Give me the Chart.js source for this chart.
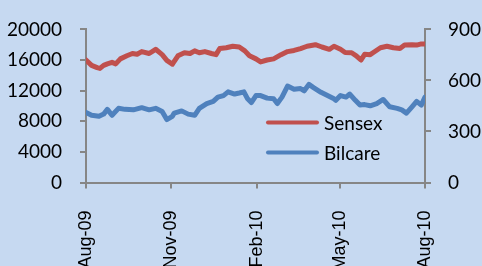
<!DOCTYPE html>
<html><head><meta charset="utf-8">
<script src="https://cdn.jsdelivr.net/npm/chart.js@4.4.1/dist/chart.umd.min.js"></script>
<style>
html,body{margin:0;padding:0;background:#C6D9F1;}
#wrap{width:482px;height:266px;position:relative;}
</style>
</head><body>
<div id="wrap"><canvas id="c"></canvas></div>
<script>
// Days since 1 Aug 2009
const sensexDays = [0,6,12,15,19,23,28,32,37,44,50,55,60,68,75,82,87,93,99,106,112,117,122,128,135,140,144,151,158,165,171,176,183,188,195,202,210,217,224,231,238,247,254,262,267,274,279,286,291,296,300,306,309,317,324,331,338,343,351,356,361,365];
const sensexValues = [16000,15300,15000,14900,15300,15500,15700,15500,16150,16550,16850,16750,17100,16850,17400,16700,15950,15450,16550,16950,16850,17200,16950,17100,16850,16700,17500,17600,17800,17700,17200,16550,16150,15750,16000,16150,16700,17100,17250,17500,17800,18000,17700,17400,17800,17400,16980,16950,16550,16000,16750,16700,16950,17600,17800,17600,17500,17950,18000,17950,18100,18100];
const bilcareDays = [0,6,14,19,23,28,35,42,51,60,68,75,82,87,93,95,103,110,117,122,130,137,142,148,153,160,165,170,174,178,183,188,195,202,206,211,217,224,231,235,240,245,253,260,267,269,274,280,284,290,295,300,306,313,320,327,335,340,345,351,356,361,365];
const bilcareValues = [412,395,389,402,430,395,436,430,427,440,427,436,417,370,389,408,421,402,395,436,464,477,502,511,533,520,526,533,492,470,511,511,496,492,464,502,567,548,552,539,577,558,530,511,492,483,511,502,520,483,455,458,451,464,488,445,436,427,408,445,477,455,502];
const seriesNames = ['Sensex','Bilcare'];
const tickDays = [0,92,184,273,365];
const tickLabels = ['Aug-09','Nov-09','Feb-10','May-10','Aug-10'];

const RED = '#C0504D', BLUE = '#4F81BD', AXIS = '#868686';

const legendPlugin = {
  id: 'inlegend',
  afterDraw(chart){
    const ctx = chart.ctx;
    const rows = [122.5, 152.5];
    ctx.save();
    chart.data.datasets.forEach((ds, i) => {
      const y = rows[i];
      ctx.strokeStyle = ds.borderColor;
      ctx.lineWidth = 4;
      ctx.lineCap = 'round';
      ctx.beginPath(); ctx.moveTo(268, y); ctx.lineTo(317, y); ctx.stroke();
      ctx.fillStyle = '#000';
      ctx.font = '19px Lato';
      ctx.textBaseline = 'middle';
      ctx.textAlign = 'left';
      ctx.fillText(ds.label, 324, y + 1);
    });
    ctx.restore();
  }
};

function build(){
  const yFont = {family: 'Lato', size: 19};
  new Chart(document.getElementById('c'), {
    type: 'line',
    data: {
      datasets: [
        {label: seriesNames[0], data: sensexDays.map((d,i)=>({x:d, y:sensexValues[i]})), borderColor: RED, backgroundColor: RED, borderWidth: 5, pointRadius: 0, tension: 0, yAxisID: 'y', borderJoinStyle: 'round', borderCapStyle:'round'},
        {label: seriesNames[1], data: bilcareDays.map((d,i)=>({x:d, y:bilcareValues[i]})), borderColor: BLUE, backgroundColor: BLUE, borderWidth: 5, pointRadius: 0, tension: 0, yAxisID: 'y1', borderJoinStyle: 'round', borderCapStyle:'round'}
      ]
    },
    options: {
      responsive: true, maintainAspectRatio: false, animation: false,
      layout: {padding: {top: 22, left: 0, right: 0, bottom: 0}},
      plugins: {legend: {display: false}, tooltip: {enabled: false}},
      scales: {
        x: {
          type: 'linear', min: 0, max: 365,
          afterBuildTicks: s => { s.ticks = tickDays.map(v => ({value: v})); },
          afterFit: s => { s.height = 83.5; },
          ticks: {autoSkip: false, minRotation: 90, maxRotation: 90, color: '#000', padding: 22,
                  font: {family: 'Liberation Sans', size: 18},
                  callback: v => tickLabels[tickDays.indexOf(v)]},
          grid: {drawOnChartArea: false, tickLength: 6, color: AXIS, lineWidth: 2},
          border: {color: AXIS, width: 2}
        },
        y: {
          position: 'left', min: 0, max: 20000,
          afterFit: s => { s.width = 86; },
          ticks: {stepSize: 4000, color: '#000', padding: 18, font: yFont, callback: v => String(v)},
          grid: {drawOnChartArea: false, tickLength: 6, color: AXIS, lineWidth: 2},
          border: {color: AXIS, width: 2}
        },
        y1: {
          position: 'right', min: 0, max: 900,
          afterFit: s => { s.width = 57; },
          ticks: {stepSize: 300, color: '#000', padding: 17, font: yFont, callback: v => String(v)},
          grid: {drawOnChartArea: false, tickLength: 6, color: AXIS, lineWidth: 2},
          border: {color: AXIS, width: 2}
        }
      }
    },
    plugins: [legendPlugin]
  });
}
Promise.all([document.fonts.load('19px Lato'), document.fonts.load('18px "Liberation Sans"')]).then(build, build);
</script>
</body></html>
